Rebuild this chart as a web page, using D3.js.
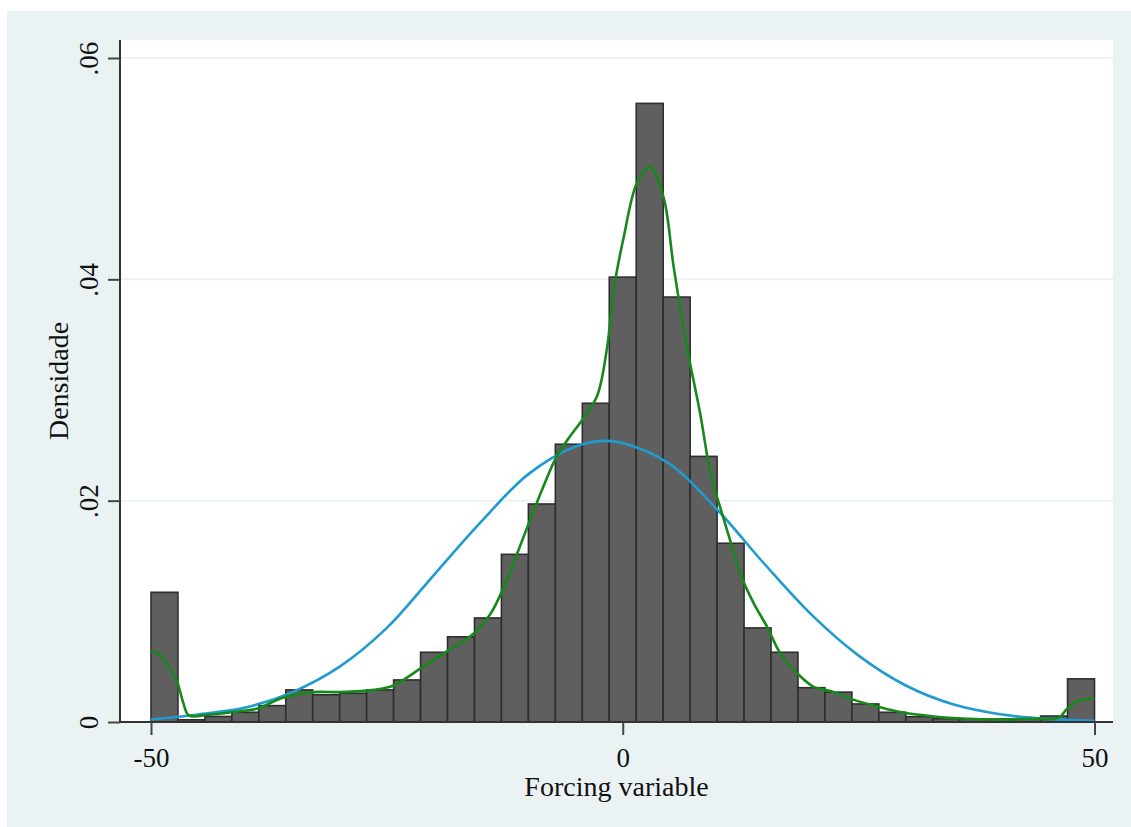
<!DOCTYPE html>
<html>
<head>
<meta charset="utf-8">
<script src="https://cdn.jsdelivr.net/npm/d3@7/dist/d3.min.js"></script>
<style>
  html, body { margin: 0; padding: 0; background: #ffffff; }
  svg { display: block; }
  text { font-family: "Liberation Serif", "DejaVu Serif", serif; fill: #111; }
</style>
</head>
<body>
<svg id="chart" width="1131" height="827"></svg>
<script>
// ---- data ----
const xDomain = [-50, 50];
const binCount = 35;
const binDensity = [
  0.01172, 0.0002, 0.0005, 0.00088, 0.00148, 0.0029, 0.00246, 0.0026, 0.0029, 0.0038,
  0.0063, 0.0077, 0.0094, 0.01515, 0.0197, 0.0251, 0.0288, 0.0402, 0.0559, 0.0384,
  0.0240, 0.01615, 0.0085, 0.0063, 0.0031, 0.0027, 0.00163, 0.00088, 0.00048, 0.0003,
  0.00025, 0.00025, 0.0003, 0.00054, 0.0039
];
// kernel density (green) sampled points: x, density
const kernelX = [-50, -49.3, -48.4, -47.3, -46.6, -46.0, -44, -41.3, -38.8, -36, -32.8, -30, -26.4, -24.3,
  -21.5, -18.6, -15.8, -14, -12.6, -11.2, -9.8, -8.4, -7.0, -5.6, -4.2, -2.7, -1.65, -0.95, 0.1, 1.5,
  2.85, 4.3, 5.4, 6.8, 8.2, 9.3, 10.5, 11.6, 12.6, 13.9, 15.3, 16.7, 18.5, 20.2, 22.4, 24.5, 27, 29.4,
  33, 36.5, 40, 43.6, 46.2, 47.1, 48.2, 50];
const kernelY = [0.0064, 0.0062, 0.0053, 0.0038, 0.0018, 0.0006, 0.00065, 0.0009, 0.0012, 0.0022, 0.0027, 0.0027, 0.0029, 0.0033,
  0.0048, 0.0064, 0.0080, 0.0098, 0.0122, 0.0152, 0.0183, 0.0213, 0.0240, 0.0258, 0.0274, 0.0295, 0.0339, 0.0391, 0.0438, 0.0487,
  0.0502, 0.0475, 0.0411, 0.0339, 0.0279, 0.0225, 0.0189, 0.0158, 0.0131, 0.0107, 0.0086, 0.0062, 0.0044, 0.0032, 0.0027, 0.0020, 0.0014, 0.0009,
  0.0005, 0.0003, 0.00024, 0.0003, 0.0004, 0.0012, 0.0019, 0.0021];
// normal density (blue) sampled points
const normalX = [-50, -45, -40, -35, -30, -25, -20, -15, -10, -5, -2, 0, 5, 10, 15, 20, 25, 30, 35, 40, 45, 50];
const normalY = [0.00022, 0.00068, 0.0013, 0.0027, 0.0050, 0.0085, 0.0133, 0.0181, 0.0224, 0.0249, 0.0254, 0.0252,
  0.0233, 0.0192, 0.0143, 0.0097, 0.0060, 0.0033, 0.0016, 0.0007, 0.00028, 0.0001];
const xTicks = [-50, 0, 50];
const xTickLabels = ["-50", "0", "50"];
const yTicks = [0, 0.02, 0.04, 0.06];
const yTickLabels = ["0", ".02", ".04", ".06"];
const xTitle = "Forcing variable";
const yTitle = "Densidade";

// ---- layout ----
const svg = d3.select("#chart");
const plot = { left: 120, right: 1113, top: 40, bottom: 722 };
const x = d3.scaleLinear().domain(xDomain).range([151, 1094.5]);
const y = d3.scaleLinear().domain([0, 0.06]).range([722, 58]);

svg.append("rect").attr("x", 7).attr("y", 11).attr("width", 1131 - 7).attr("height", 827 - 11).attr("fill", "#eaf2f3");
svg.append("rect").attr("x", plot.left).attr("y", plot.top)
  .attr("width", plot.right - plot.left).attr("height", plot.bottom - plot.top).attr("fill", "#ffffff");

// gridlines
svg.append("g").selectAll("line").data(yTicks.slice(1)).join("line")
  .attr("x1", plot.left).attr("x2", plot.right)
  .attr("y1", d => y(d)).attr("y2", d => y(d))
  .attr("stroke", "#eaf2f3").attr("stroke-width", 2);

// bars
const binWidth = (xDomain[1] - xDomain[0]) / binCount;
const bins = binDensity.map((v, i) => ({ x0: xDomain[0] + i * binWidth, x1: xDomain[0] + (i + 1) * binWidth, v }));
svg.append("g").selectAll("rect").data(bins).join("rect")
  .attr("x", d => x(d.x0)).attr("width", d => x(d.x1) - x(d.x0))
  .attr("y", d => y(d.v)).attr("height", d => y(0) - y(d.v))
  .attr("fill", "#5f5f5f").attr("stroke", "#2e2e2e").attr("stroke-width", 1.6);

// curves
const line = d3.line().x(d => x(d[0])).y(d => y(d[1])).curve(d3.curveCatmullRom.alpha(0.5));
svg.append("path").datum(normalX.map((v, i) => [v, normalY[i]]))
  .attr("d", line).attr("fill", "none").attr("stroke", "#1f9bcf").attr("stroke-width", 2.6);
svg.append("path").datum(kernelX.map((v, i) => [v, kernelY[i]]))
  .attr("d", line).attr("fill", "none").attr("stroke", "#17891a").attr("stroke-width", 2.6);

// y axis
const yAxis = d3.axisLeft(y).tickValues(yTicks).tickSize(12).tickFormat((d, i) => yTickLabels[i]);
const gy = svg.append("g").attr("transform", `translate(${plot.left},0)`).call(yAxis);
gy.select(".domain").attr("d", `M0,${plot.top}V${plot.bottom}`).attr("stroke", "#333").attr("stroke-width", 2);
gy.selectAll(".tick line").attr("stroke", "#444").attr("stroke-width", 2);
gy.selectAll(".tick text")
  .attr("font-size", 27).attr("font-family", "Liberation Serif, serif").attr("fill", "#111")
  .attr("x", null).attr("dy", null)
  .attr("text-anchor", "middle")
  .attr("transform", "translate(-22,0) rotate(-90)");

// x axis
const xAxis = d3.axisBottom(x).tickValues(xTicks).tickSize(13).tickFormat((d, i) => xTickLabels[i]);
const gx = svg.append("g").attr("transform", `translate(0,${plot.bottom})`).call(xAxis);
gx.select(".domain").attr("d", `M${plot.left},0H${plot.right}`).attr("stroke", "#333").attr("stroke-width", 2);
gx.selectAll(".tick line").attr("stroke", "#444").attr("stroke-width", 2);
gx.selectAll(".tick text")
  .attr("font-size", 27).attr("font-family", "Liberation Serif, serif").attr("fill", "#111")
  .attr("y", 45).attr("dy", null);

// titles
svg.append("text").attr("x", (plot.left + plot.right) / 2).attr("y", 796)
  .attr("text-anchor", "middle").attr("font-size", 28).text(xTitle);
svg.append("text").attr("transform", `translate(68,${(plot.top + plot.bottom) / 2}) rotate(-90)`)
  .attr("text-anchor", "middle").attr("font-size", 28).text(yTitle);
</script>
</body>
</html>
